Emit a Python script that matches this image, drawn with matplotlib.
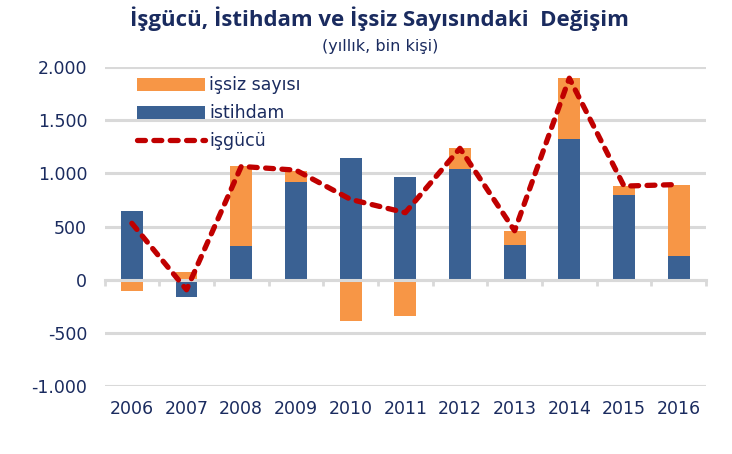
import numpy as np
import matplotlib
matplotlib.use("Agg")
import matplotlib.pyplot as plt
from matplotlib.patches import Patch
from matplotlib.lines import Line2D

# ---- DATA (bin kişi, yıllık değişim) ----
years = ["2006", "2007", "2008", "2009", "2010", "2011", "2012", "2013", "2014", "2015", "2016"]
istihdam = [650, -165, 315, 915, 1140, 970, 1045, 330, 1325, 800, 220]
issiz = [-105, 70, 755, 110, -385, -340, 190, 130, 570, 80, 675]
isgucu = [530, -95, 1065, 1030, 755, 630, 1235, 460, 1895, 880, 895]
yticks = [-1000, -500, 0, 500, 1000, 1500, 2000]
ytick_labels = ["-1.000", "-500", "0", "500", "1.000", "1.500", "2.000"]

# ---- STYLE ----
BLUE = "#3A6193"
ORANGE = "#F79646"
RED = "#C00000"
GRID = "#D9D9D9"
TEXT = "#1A2B5F"

plt.rcParams["font.family"] = ["DejaVu Sans"]

fig = plt.figure(figsize=(7.32, 4.54), dpi=100)
ax = fig.add_axes([0.1428, 0.1498, 0.8217, 0.7026])

x = np.arange(len(years))
istihdam = np.array(istihdam)
issiz = np.array(issiz)

# orange stacks on blue when same sign, otherwise starts from zero
same_sign = np.sign(issiz) == np.sign(istihdam)
issiz_bottom = np.where(same_sign, istihdam, 0)

ax.bar(x, istihdam, width=0.4, color=BLUE, zorder=2)
ax.bar(x, issiz, width=0.4, bottom=issiz_bottom, color=ORANGE, zorder=2)

ax.plot(x, isgucu, color=RED, lw=3.8, linestyle=(0, (1.5, 1.6)),
        dash_capstyle="round", solid_joinstyle="round", zorder=4)

ax.set_xlim(-0.5, len(years) - 0.5)
ax.set_ylim(-1000, 2000)

# grid
ax.set_yticks(yticks)
ax.set_yticklabels(ytick_labels)
ax.yaxis.grid(True, color=GRID, lw=2.2)
ax.set_axisbelow(True)
ax.tick_params(axis="y", length=0, pad=12.5, labelsize=12.5, labelcolor=TEXT)

# zero axis line with boundary ticks
for side in ["top", "right", "left"]:
    ax.spines[side].set_visible(False)
ax.spines["bottom"].set_position(("data", 0))
ax.spines["bottom"].set_color(GRID)
ax.spines["bottom"].set_linewidth(2.2)
ax.spines["bottom"].set_zorder(3)
ax.set_xticks(np.arange(-0.5, len(years), 1.0))
ax.tick_params(axis="x", length=4, width=2, color=GRID, labelbottom=False)

# year labels at the bottom
sec = ax.secondary_xaxis(0)
sec.set_xticks(x)
sec.set_xticklabels(years)
sec.tick_params(length=0, pad=10, labelsize=12.5, labelcolor=TEXT)
sec.spines["bottom"].set_visible(False)

# legend
handles = [
    Patch(facecolor=ORANGE, edgecolor="none", label="işsiz sayısı"),
    Patch(facecolor=BLUE, edgecolor="none", label="istihdam"),
    Line2D([0], [0], color=RED, lw=3.8, linestyle=(0, (1.5, 1.6)),
           dash_capstyle="round", label="işgücü"),
]
leg = fig.legend(handles=handles, loc="upper left", bbox_to_anchor=(0.187, 0.832),
                 frameon=False, fontsize=12.5, handlelength=3.9, handleheight=0.75,
                 handletextpad=0.25, labelspacing=0.58, borderpad=0, borderaxespad=0)
for t in leg.get_texts():
    t.set_color(TEXT)

# titles
fig.text(0.518, 1 - 19 / 454, "İşgücü, İstihdam ve İşsiz Sayısındaki  Değişim",
         ha="center", va="center", fontsize=16, fontweight="bold",
         family=["Open Sans", "DejaVu Sans"], color=TEXT)
fig.text(0.519, 1 - 47 / 454, "(yıllık, bin kişi)", ha="center", va="center",
         fontsize=11.5, color=TEXT)

fig.savefig("out.png", dpi=100)
print("Saved: out.png")
